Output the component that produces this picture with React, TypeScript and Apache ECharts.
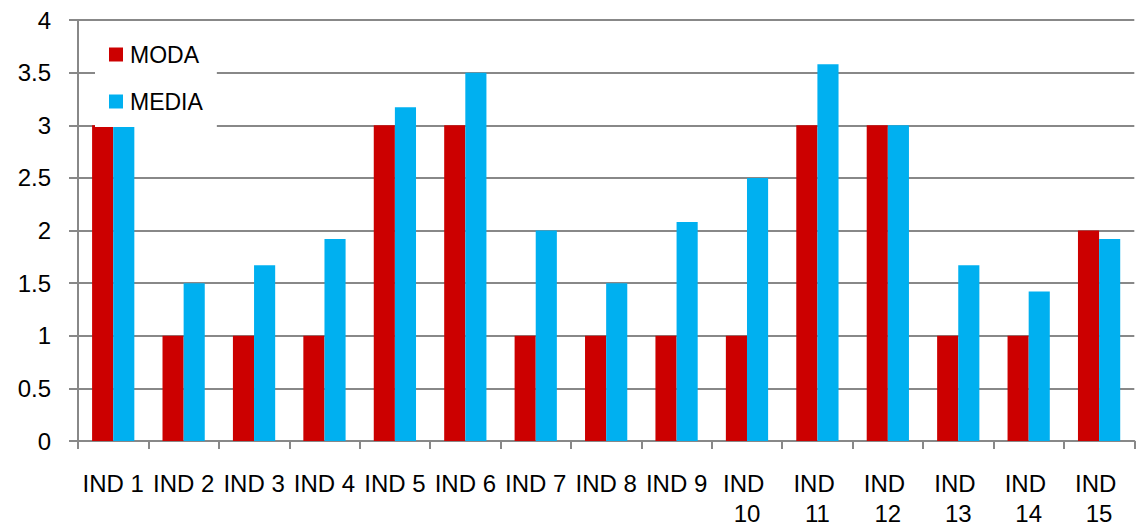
import React, { useEffect, useRef } from "react";
import * as echarts from "echarts";

const categories = ["IND 1", "IND 2", "IND 3", "IND 4", "IND 5", "IND 6", "IND 7", "IND 8", "IND 9", "IND 10", "IND 11", "IND 12", "IND 13", "IND 14", "IND 15"];
const moda = [3, 1, 1, 1, 3, 3, 1, 1, 1, 1, 3, 3, 1, 1, 2];
const media = [3, 1.5, 1.67, 1.92, 3.17, 3.5, 2, 1.5, 2.08, 2.5, 3.58, 3, 1.67, 1.42, 1.92];

const FONT = "Liberation Sans, Arial, sans-serif";

export default function App() {
  const ref = useRef<HTMLDivElement>(null);
  useEffect(() => {
    if (!ref.current) return;
    const chart = echarts.init(ref.current, undefined, { renderer: "svg" });
    chart.setOption({
      animation: false,
      backgroundColor: "#ffffff",
      textStyle: { fontFamily: FONT },
      grid: { left: 78, right: 0, top: 20, bottom: 81, containLabel: false },
      legend: {
        orient: "vertical",
        left: 95,
        top: 28,
        width: 120,
        backgroundColor: "#ffffff",
        padding: [15, 14, 14, 14],
        itemWidth: 14,
        itemHeight: 14,
        itemGap: 24,
        icon: "rect",
        textStyle: { fontFamily: FONT, fontSize: 23, color: "#000", padding: [0, 0, 0, 2] },
        data: ["MODA", "MEDIA"],
      },
      xAxis: {
        type: "category",
        data: categories,
        axisLine: { lineStyle: { color: "#888888", width: 2 } },
        axisTick: { show: true, length: 8, lineStyle: { color: "#888888", width: 2 } },
        axisLabel: {
          interval: 0,
          fontFamily: FONT,
          fontSize: 24,
          color: "#000",
          margin: 27,
          lineHeight: 30,
          width: 70,
          overflow: "break",
        },
      },
      yAxis: {
        type: "value",
        min: 0,
        max: 4,
        interval: 0.5,
        axisLine: { show: true, lineStyle: { color: "#888888", width: 2 } },
        axisTick: { show: true, length: 9, lineStyle: { color: "#888888", width: 2 } },
        splitLine: { show: true, lineStyle: { color: "#888888", width: 2 } },
        axisLabel: { fontFamily: FONT, fontSize: 24, color: "#000", margin: 27 },
      },
      series: [
        {
          name: "MODA",
          type: "bar",
          data: moda,
          barGap: "0%",
          barCategoryGap: "40%",
          itemStyle: { color: "#CC0000" },
        },
        {
          name: "MEDIA",
          type: "bar",
          data: media,
          barGap: "0%",
          barCategoryGap: "40%",
          itemStyle: { color: "#00B0F0" },
        },
      ],
    });
    return () => chart.dispose();
  }, []);
  return (
    <div
      ref={ref}
      style={{ position: "fixed", left: 0, top: 0, width: 1137, height: 528 }}
    />
  );
}
